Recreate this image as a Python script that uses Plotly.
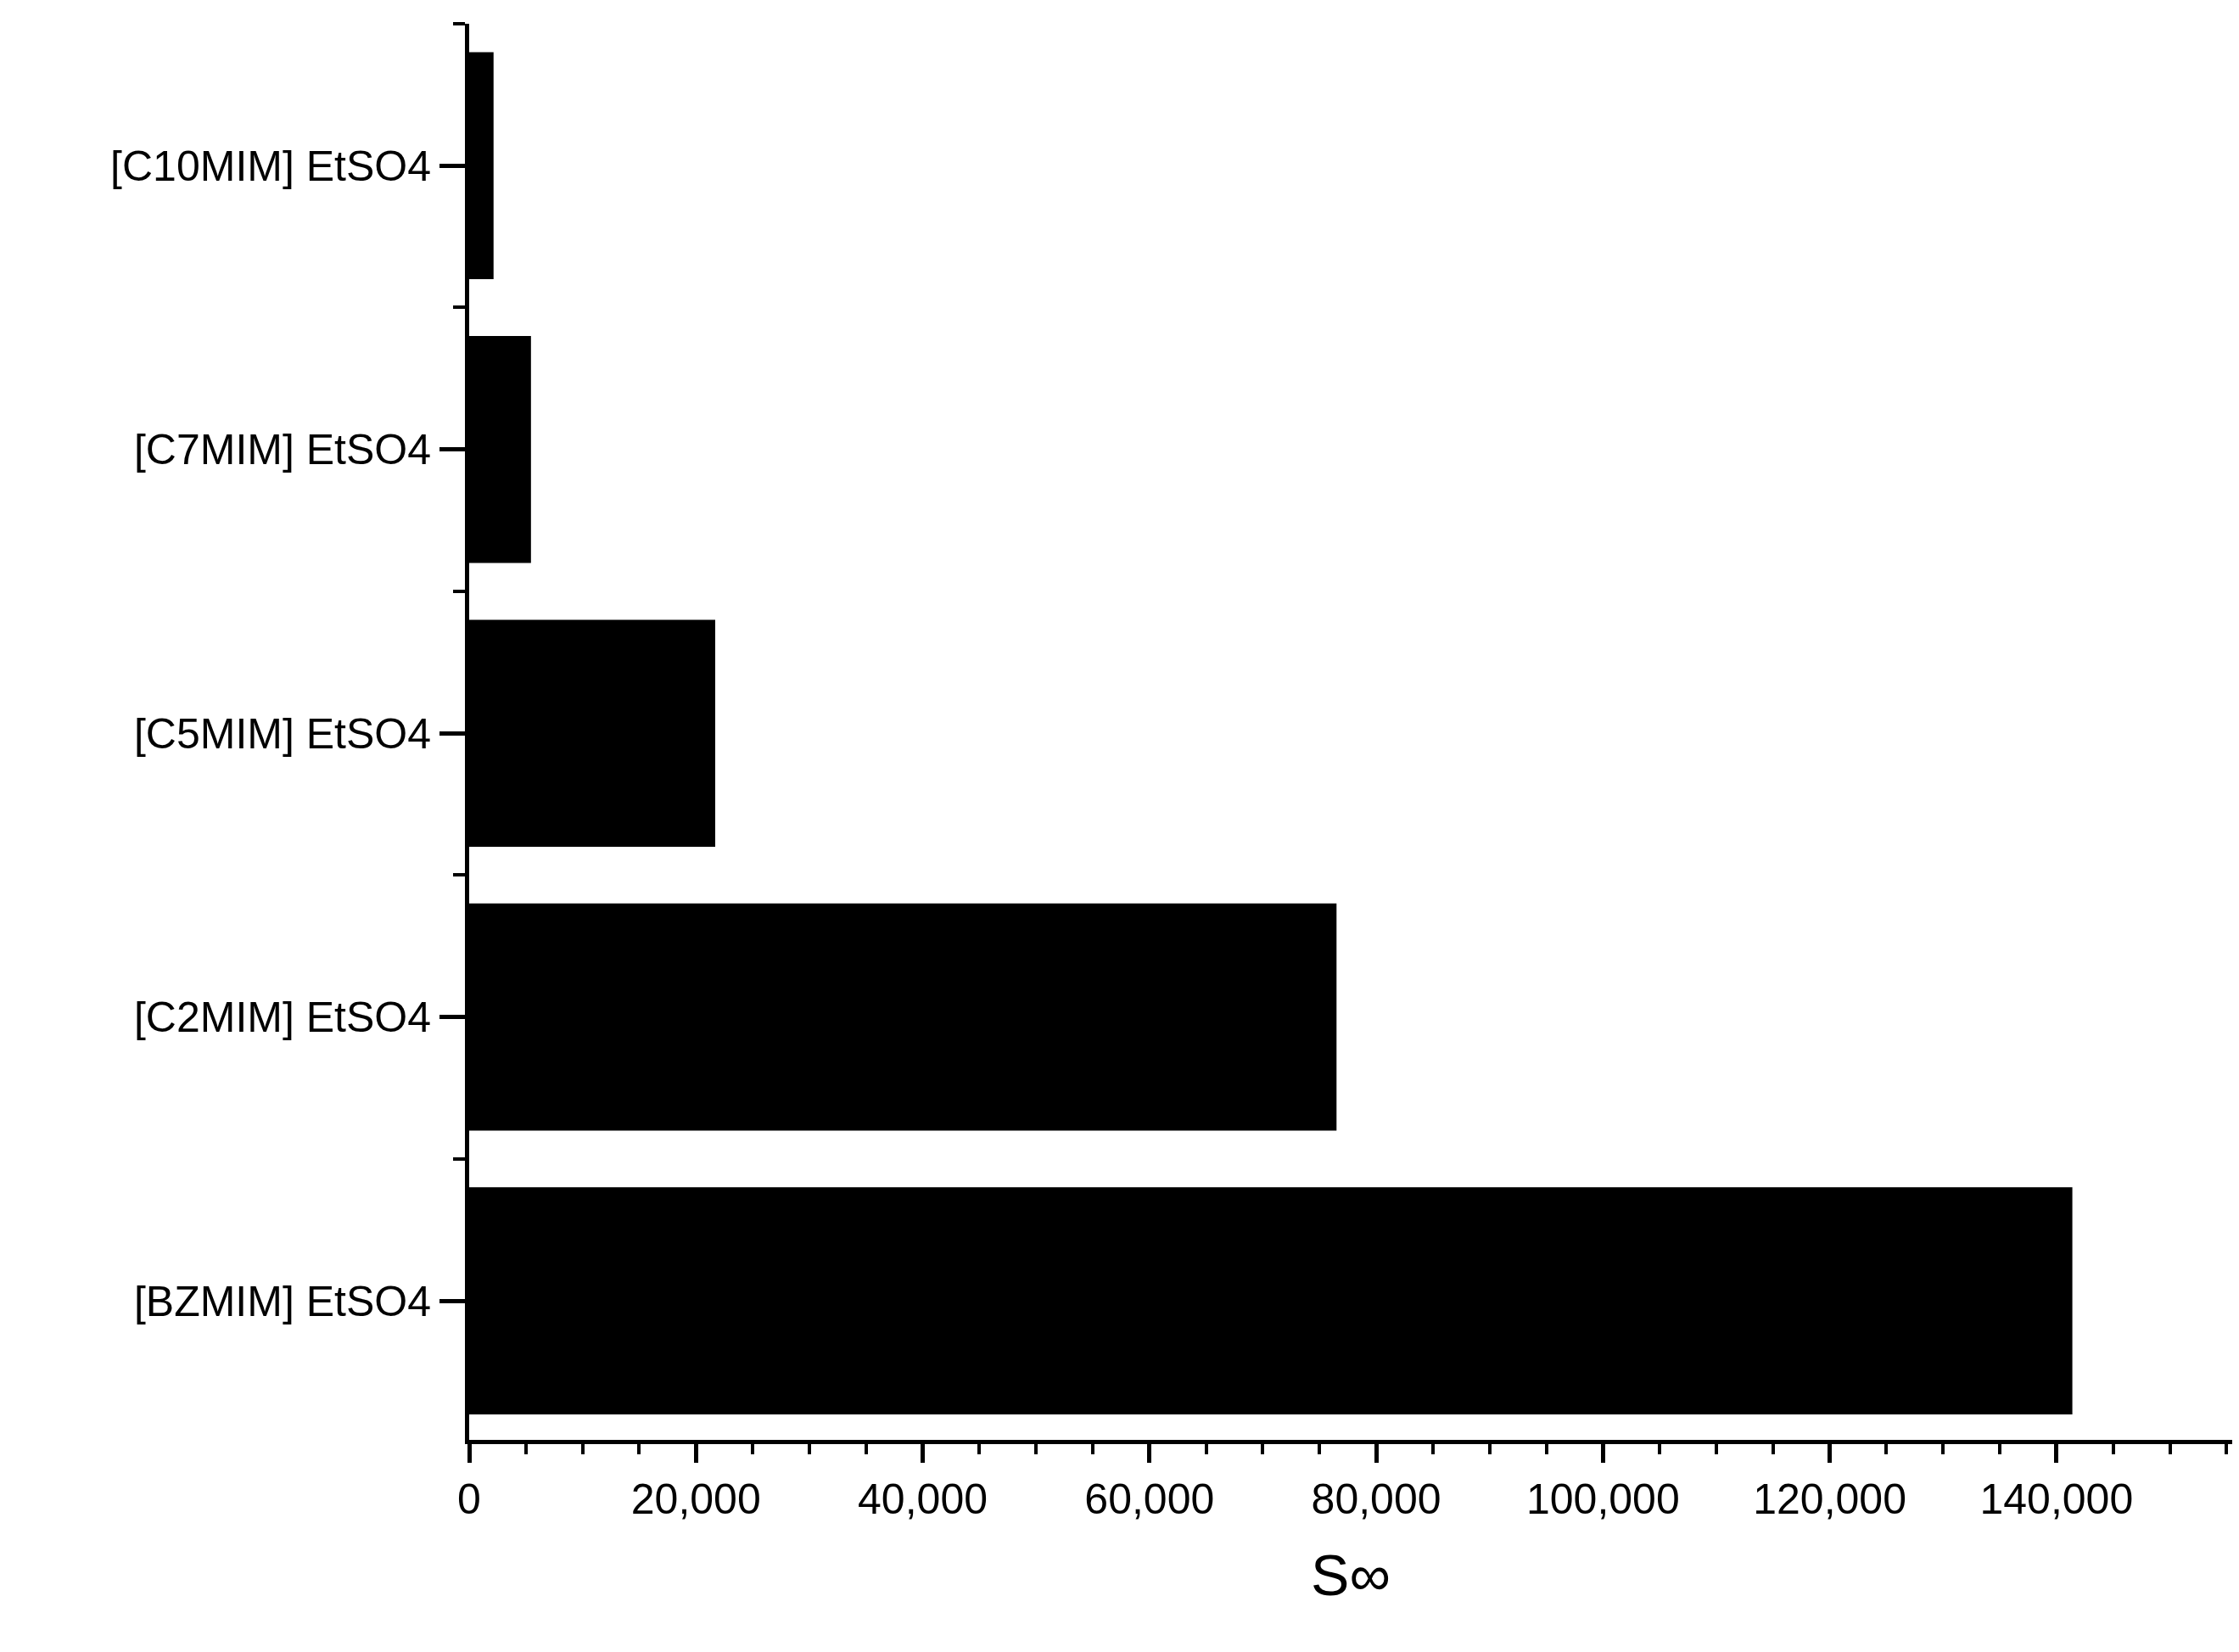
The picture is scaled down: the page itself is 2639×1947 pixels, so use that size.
import plotly.graph_objects as go

categories = ["[BZMIM] EtSO4", "[C2MIM] EtSO4", "[C5MIM] EtSO4", "[C7MIM] EtSO4", "[C10MIM] EtSO4"]
values = [141400, 76500, 21700, 5450, 2150]
x_ticks = [0, 20000, 40000, 60000, 80000, 100000, 120000, 140000]
x_tick_labels = ["0", "20,000", "40,000", "60,000", "80,000", "100,000", "120,000", "140,000"]

pos = list(range(len(categories)))
fig = go.Figure(go.Bar(x=values, y=pos, orientation="h", marker=dict(color="black", line=dict(width=0)), width=0.8))

font = dict(family="Liberation Sans, Arial", color="black")
fig.update_layout(
    width=2639, height=1947, plot_bgcolor="white", paper_bgcolor="white",
    margin=dict(l=545, r=16, t=20, b=258), showlegend=False,
    font=dict(**font, size=50),
    xaxis=dict(range=[0, 155500], tickvals=x_ticks, ticktext=x_tick_labels,
               showline=True, linecolor="black", linewidth=5, ticks="outside",
               ticklen=22, tickwidth=5, tickcolor="black", showgrid=False, zeroline=False,
               tickfont=dict(**font, size=50),
               minor=dict(tickmode="linear", tick0=0, dtick=5000, ticks="outside", ticklen=12, tickwidth=4, tickcolor="black", showgrid=False),
               title=dict(text="S∞", font=dict(**font, size=68), standoff=40)),
    yaxis=dict(range=[-0.49, 4.5], tickvals=pos, ticktext=categories,
               showline=True, linecolor="black", linewidth=5, ticks="outside",
               ticklen=30, tickwidth=5, tickcolor="black", showgrid=False, zeroline=False,
               tickfont=dict(**font, size=50),
               minor=dict(tickmode="linear", tick0=0.5, dtick=1, ticks="outside", ticklen=14, tickwidth=4, tickcolor="black", showgrid=False)),
)
fig.write_html("out.html")
